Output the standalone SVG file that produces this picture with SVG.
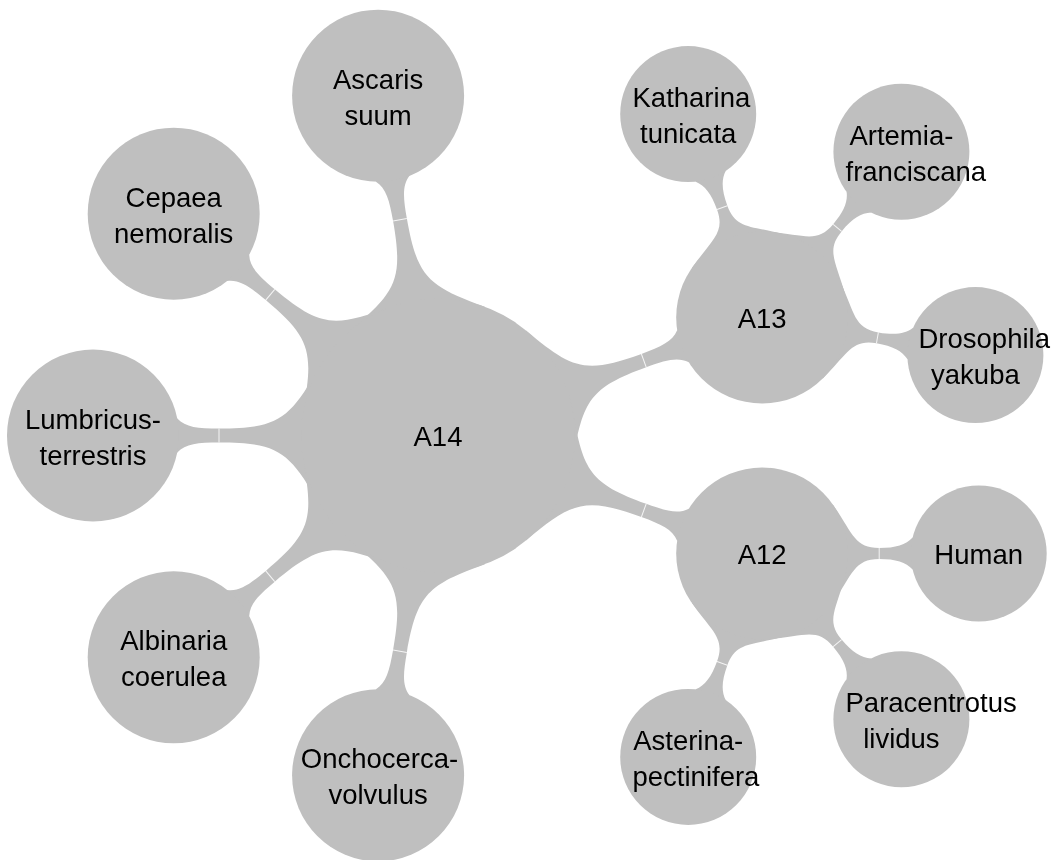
<svg xmlns="http://www.w3.org/2000/svg" width="1063" height="860" viewBox="0 0 1063 860">
<style>
.c{fill:#bfbfbf}
.t{font-family:"Liberation Sans",Arial,sans-serif;font-size:27.5px;fill:#000;text-anchor:middle}
.s{text-anchor:start}
.seam{stroke:#ffffff;stroke-width:1;fill:none;opacity:0.85}
</style>
<defs>
<path id="rootbar" d="M118.65,-68.5 C148.65,-16.5 159,-7 219,-7 C240,-7 252.4,-8 260.7,-17 L300,0 L260.7,17 C252.4,8 240,7 219,7 C159,7 148.65,16.5 118.65,68.5 L60,0 Z"/>
<line id="rootseam" x1="219" y1="-7" x2="219" y2="7"/>
<path id="leafbar" d="M70.45,-49.33 C90.5,-20.66 92,-5.5 117,-5.5 C133.7,-5.5 143.7,-8.65 150.4,-16 L180,0 L150.4,16 C143.7,8.65 133.7,5.5 117,5.5 C92,5.5 90.5,20.66 70.45,49.33 L40,0 Z"/>
<line id="leafseam" x1="117" y1="-5.5" x2="117" y2="5.5"/>
</defs>
<rect width="1063" height="860" fill="#ffffff"/>
<g id="connectors">
  <g class="c">
    <use href="#rootbar" transform="translate(438,435.5) rotate(-20)"/>
    <use href="#rootbar" transform="translate(438,435.5) rotate(-100)"/>
    <use href="#rootbar" transform="translate(438,435.5) rotate(-140)"/>
    <use href="#rootbar" transform="translate(438,435.5) rotate(-180)"/>
    <use href="#rootbar" transform="translate(438,435.5) rotate(-220)"/>
    <use href="#rootbar" transform="translate(438,435.5) rotate(-260)"/>
    <use href="#rootbar" transform="translate(438,435.5) rotate(20)"/>
    <use href="#leafbar" transform="translate(762.2,317.5) rotate(-110)"/>
    <use href="#leafbar" transform="translate(762.2,317.5) rotate(-50)"/>
    <use href="#leafbar" transform="translate(762.2,317.5) rotate(10)"/>
    <use href="#leafbar" transform="translate(762.2,553.5) rotate(0)"/>
    <use href="#leafbar" transform="translate(762.2,553.5) rotate(50)"/>
    <use href="#leafbar" transform="translate(762.2,553.5) rotate(110)"/>
  </g>
  <g class="seam">
    <use href="#rootseam" transform="translate(438,435.5) rotate(-20)"/>
    <use href="#rootseam" transform="translate(438,435.5) rotate(-100)"/>
    <use href="#rootseam" transform="translate(438,435.5) rotate(-140)"/>
    <use href="#rootseam" transform="translate(438,435.5) rotate(-180)"/>
    <use href="#rootseam" transform="translate(438,435.5) rotate(-220)"/>
    <use href="#rootseam" transform="translate(438,435.5) rotate(-260)"/>
    <use href="#rootseam" transform="translate(438,435.5) rotate(20)"/>
    <use href="#leafseam" transform="translate(762.2,317.5) rotate(-110)"/>
    <use href="#leafseam" transform="translate(762.2,317.5) rotate(-50)"/>
    <use href="#leafseam" transform="translate(762.2,317.5) rotate(10)"/>
    <use href="#leafseam" transform="translate(762.2,553.5) rotate(0)"/>
    <use href="#leafseam" transform="translate(762.2,553.5) rotate(50)"/>
    <use href="#leafseam" transform="translate(762.2,553.5) rotate(110)"/>
  </g>
</g>
<g id="node-A14"><circle class="c" cx="438" cy="435.5" r="137"/><text class="t" x="438" y="446">A14</text></g>
<g id="node-A13"><circle class="c" cx="762.2" cy="317.5" r="86"/><text class="t" x="762.2" y="328">A13</text></g>
<g id="node-A12"><circle class="c" cx="762.2" cy="553.5" r="86"/><text class="t" x="762.2" y="564">A12</text></g>
<g id="node-ascaris"><circle class="c" cx="378.1" cy="95.7" r="86"/><text class="t" x="378.1" y="88.7">Ascaris</text><text class="t" x="378.1" y="124.7">suum</text></g>
<g id="node-cepaea"><circle class="c" cx="173.7" cy="213.7" r="86"/><text class="t" x="173.7" y="206.7">Cepaea</text><text class="t" x="173.7" y="242.7">nemoralis</text></g>
<g id="node-lumbricus"><circle class="c" cx="93" cy="435.5" r="86"/><text class="t" x="93" y="428.5">Lumbricus-</text><text class="t" x="93" y="464.5">terrestris</text></g>
<g id="node-albinaria"><circle class="c" cx="173.7" cy="657.3" r="86"/><text class="t" x="173.7" y="650.3">Albinaria</text><text class="t" x="173.7" y="686.3">coerulea</text></g>
<g id="node-onchocerca"><circle class="c" cx="378.1" cy="775.3" r="86"/><text class="t" x="379.5" y="768.3">Onchocerca-</text><text class="t" x="378.1" y="804.3">volvulus</text></g>
<g id="node-katharina"><circle class="c" cx="688.2" cy="114.1" r="68"/><text class="t s" x="632.5" y="107.1">Katharina</text><text class="t" x="688.2" y="143.1">tunicata</text></g>
<g id="node-artemia"><circle class="c" cx="901.4" cy="151.7" r="68"/><text class="t" x="901.4" y="144.7">Artemia-</text><text class="t s" x="845.5" y="180.7">franciscana</text></g>
<g id="node-drosophila"><circle class="c" cx="975.4" cy="355.1" r="68"/><text class="t s" x="918.5" y="348.1">Drosophila</text><text class="t" x="975.4" y="384.1">yakuba</text></g>
<g id="node-human"><circle class="c" cx="978.7" cy="553.5" r="68"/><text class="t" x="978.7" y="564">Human</text></g>
<g id="node-paracentrotus"><circle class="c" cx="901.4" cy="719.3" r="68"/><text class="t s" x="845.5" y="712.3">Paracentrotus</text><text class="t" x="901.4" y="748.3">lividus</text></g>
<g id="node-asterina"><circle class="c" cx="688.2" cy="756.9" r="68"/><text class="t" x="688.2" y="749.9">Asterina-</text><text class="t s" x="632.5" y="785.9">pectinifera</text></g>
</svg>
